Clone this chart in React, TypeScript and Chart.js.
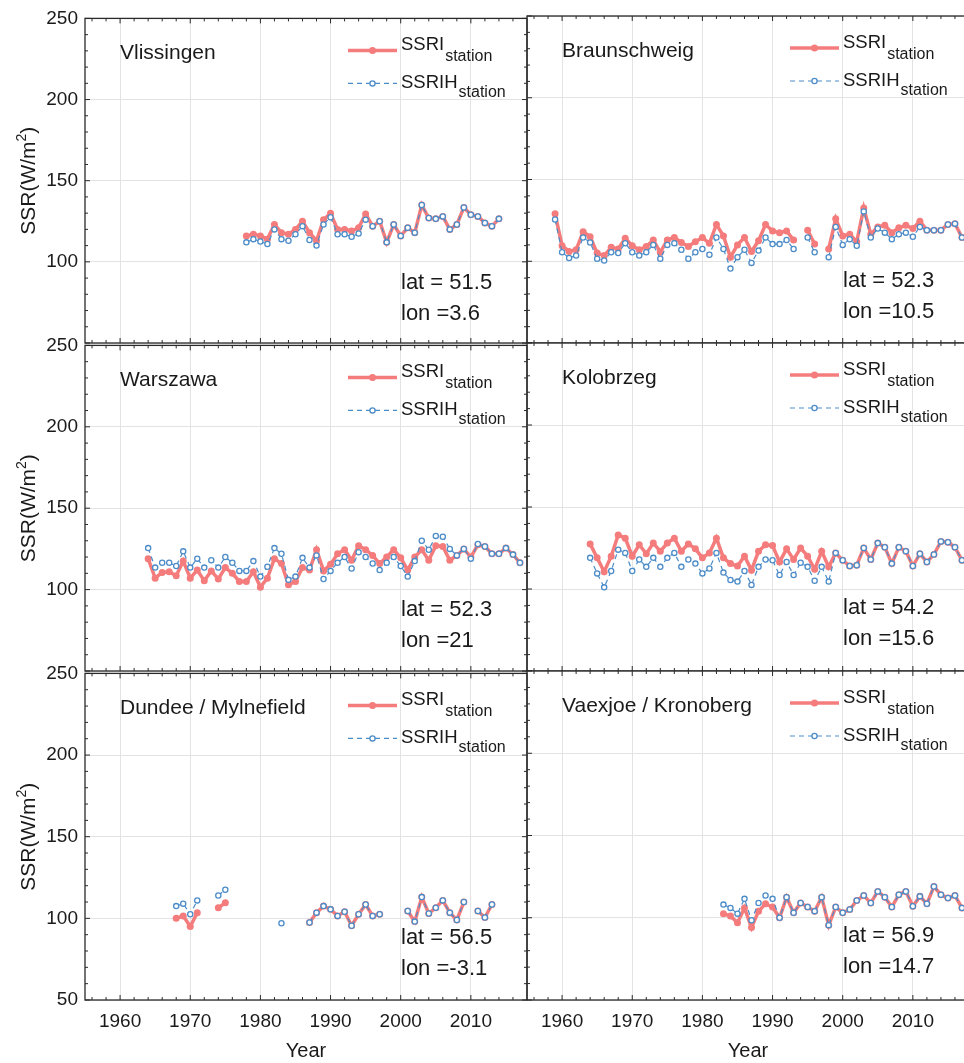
import React, { useEffect, useRef } from "react";
import { Chart, registerables } from "chart.js";
Chart.register(...registerables);

// ---------------- data ----------------
const YEARS = [
  1959,
  1960, 1961, 1962, 1963, 1964, 1965, 1966, 1967, 1968, 1969,
  1970, 1971, 1972, 1973, 1974, 1975, 1976, 1977, 1978, 1979,
  1980, 1981, 1982, 1983, 1984, 1985, 1986, 1987, 1988, 1989,
  1990, 1991, 1992, 1993, 1994, 1995, 1996, 1997, 1998, 1999,
  2000, 2001, 2002, 2003, 2004, 2005, 2006, 2007, 2008, 2009,
  2010, 2011, 2012, 2013, 2014, 2015, 2016, 2017,
];

const X_MIN = 1955;
const X_MAX = 2018;
const Y_MIN = 50;
const Y_MAX = 250;
const X_MAJOR_TICKS = [1960, 1970, 1980, 1990, 2000, 2010];
const X_MINOR_TICKS = [
  1956, 1958, 1962, 1964, 1966, 1968, 1972, 1974, 1976, 1978, 1982, 1984, 1986, 1988,
  1992, 1994, 1996, 1998, 2002, 2004, 2006, 2008, 2012, 2014, 2016,
];
const Y_MAJOR_TICKS = [50, 100, 150, 200, 250];
const Y_MINOR_TICKS = [60, 70, 80, 90, 110, 120, 130, 140, 160, 170, 180, 190, 210, 220, 230, 240];

const STATION_NAMES = [
  "Vlissingen",
  "Braunschweig",
  "Warszawa",
  "Kolobrzeg",
  "Dundee / Mylnefield",
  "Vaexjoe / Kronoberg",
];
const STATION_LAT = ["51.5", "52.3", "52.3", "54.2", "56.5", "56.9"];
const STATION_LON = ["3.6", "10.5", "21", "15.6", "-3.1", "14.7"];

const _ = null;

// Vlissingen
const VLIS_SSRI = [
  _,
  _, _, _, _, _, _, _, _, _, _,
  _, _, _, _, _, _, _, _, 116, 117,
  116, 114, 123, 118, 117, 120, 125, 118, 113, 126,
  130, 120, 120, 119, 121, 129.5, 122, 125, 112, 123,
  116, 121, 118, 135, 127, 126.5, 128, 120, 123, 133.5,
  129, 128, 124, 122, 126.5, _, _, _,
];
const VLIS_SSRIH = [
  _,
  _, _, _, _, _, _, _, _, _, _,
  _, _, _, _, _, _, _, _, 112, 114,
  112.5, 111, 120, 114, 113, 117, 122, 113.5, 110, 123,
  127.5, 117, 117, 115.5, 117.5, 126, 122, 125, 112, 123,
  116, 121, 118, 135, 127, 126.5, 128, 120, 123, 133.5,
  129, 128, 124, 122, 126.5, _, _, _,
];

// Braunschweig
const BRAU_SSRI = [
  129,
  109.5, 106, 107, 118, 115, 105, 103.5, 108.5, 107.5, 114,
  109.5, 107, 109, 113, 105.5, 113, 114.5, 111.5, 109, 112,
  114.5, 111, 122.5, 115.5, 102.5, 110, 114.5, 106, 112.5, 122.5,
  118.5, 117.5, 118.5, 113, _, 119, 110.5, _, 107.5, 126,
  115.5, 116.5, 112, 132.5, 116.5, 121, 122, 117.5, 120.5, 122,
  120, 124.5, 119, 119, 119, 122.5, 123, 114.5,
];
const BRAU_SSRIH = [
  125.5,
  105.5, 102, 103.5, 114.5, 111.5, 101.5, 100.5, 105.5, 105, 111,
  105.5, 103.5, 105.5, 110, 101.5, 110, 111, 107, 101.5, 105.5,
  107.5, 104, 114.5, 107.5, 95.5, 102.5, 107, 99, 106.5, 114.5,
  110.5, 110.5, 113, 107.5, _, 114.5, 105.5, _, 102.5, 121,
  110, 113.5, 109.5, 130.5, 114.5, 120, 117.5, 113.5, 116.5, 117.5,
  115, 121, 119, 119, 119, 122.5, 123, 114.5,
];

// Warszawa
const WARS_SSRI = [
  _,
  _, _, _, _, 119, 107, 110.5, 111, 108.5, 117.5,
  107, 112, 105.5, 111.5, 106.5, 113.5, 110, 105, 105, 111,
  101.5, 107, 119, 116, 103, 105, 113.5, 112, 124.5, 111.5,
  115.5, 122, 124.5, 118, 127, 124.5, 121, 116, 120, 124.5,
  119.5, 112, 120, 124.5, 118, 127, 126.5, 118, 121, 125,
  120, 127.5, 126.5, 122, 122, 125.5, 121.5, 116.5,
];
const WARS_SSRIH = [
  _,
  _, _, _, _, 125.5, 113.5, 116.5, 116.5, 114.5, 123.5,
  113.5, 119, 113.5, 118, 113.5, 120, 116.5, 111.5, 111.5, 117.5,
  108, 114, 125.5, 122, 106, 108, 119.5, 113.5, 121, 106.5,
  111.5, 116.5, 120, 113, 123, 120, 116, 112, 116.5, 120,
  114.5, 108, 117.5, 130, 124.5, 133, 132.5, 125, 121, 125,
  119, 128, 126.5, 122, 122, 125.5, 121.5, 116.5,
];

// Kolobrzeg
const KOLO_SSRI = [
  _,
  _, _, _, _, 127.5, 119, 110.5, 120, 133, 131,
  120, 127, 121.5, 128, 123, 128, 131, 123, 127.5, 124.5,
  119, 122, 131, 119, 115.5, 114, 120, 111.5, 123, 127,
  126.5, 116.5, 124.5, 118, 125, 120, 112, 123, 113.5, 122,
  117.5, 114, 114.5, 125, 118, 128, 125.5, 115.5, 125.5, 123,
  114, 121.5, 116.5, 121, 129, 128.5, 125.5, 117.5,
];
const KOLO_SSRIH = [
  _,
  _, _, _, _, 119, 109.5, 101, 111, 124, 122,
  111, 118, 113.5, 119, 113.5, 119, 122, 113.5, 118, 115.5,
  109.5, 112.5, 122, 110, 105.5, 104.5, 111, 102.5, 113.5, 118,
  117.5, 108.5, 116.5, 108.5, 116, 113.5, 105, 113.5, 104.5, 122,
  117.5, 114, 114.5, 125, 118, 128, 125.5, 115.5, 125.5, 123,
  114, 121.5, 116.5, 121, 129, 128.5, 125.5, 117.5,
];

// Dundee / Mylnefield
const DUND_SSRI = [
  _,
  _, _, _, _, _, _, _, _, 100, 101.5,
  95, 103.5, _, _, 106.5, 109.5, _, _, _, _,
  _, _, _, _, _, _, _, 97.5, 103.5, 107.5,
  105.5, 101.5, 104, 95.5, 102.5, 108.5, 101.5, 102.5, _, _,
  _, 104.5, 98, 113, 103, 106.5, 111, 103.5, 99, 110,
  _, 104.5, 100.5, 108.5, _, _, _, _,
];
const DUND_SSRIH = [
  _,
  _, _, _, _, _, _, _, _, 107.5, 109,
  102.5, 111, _, _, 114, 117.5, _, _, _, _,
  _, _, _, 97, _, _, _, 97.5, 103.5, 107.5,
  105.5, 101.5, 104, 95.5, 102.5, 108.5, 101.5, 102.5, _, _,
  _, 104.5, 98, 113, 103, 106.5, 111, 103.5, 99, 110,
  _, 104.5, 100.5, 108.5, _, _, _, _,
];

// Vaexjoe / Kronoberg
const VAEX_SSRI = [
  _,
  _, _, _, _, _, _, _, _, _, _,
  _, _, _, _, _, _, _, _, _, _,
  _, _, _, 102.5, 101, 97, 106, 94, 104, 108.5,
  106.5, 100, 112.5, 103, 109, 106.5, 104, 112.5, 95.5, 106.5,
  103, 105, 110.5, 113.5, 109, 116, 112.5, 106.5, 114, 116,
  107, 113, 108.5, 119, 114, 112, 113.5, 106,
];
const VAEX_SSRIH = [
  _,
  _, _, _, _, _, _, _, _, _, _,
  _, _, _, _, _, _, _, _, _, _,
  _, _, _, 108, 106, 102.5, 111.5, 98.5, 109, 113.5,
  111.5, 100, 112.5, 103, 109, 106.5, 104, 112.5, 95.5, 106.5,
  103, 105, 110.5, 113.5, 109, 116, 112.5, 106.5, 114, 116,
  107, 113, 108.5, 119, 114, 112, 113.5, 106,
];

const SSRI_SERIES = [VLIS_SSRI, BRAU_SSRI, WARS_SSRI, KOLO_SSRI, DUND_SSRI, VAEX_SSRI];
const SSRIH_SERIES = [VLIS_SSRIH, BRAU_SSRIH, WARS_SSRIH, KOLO_SSRIH, DUND_SSRIH, VAEX_SSRIH];

// ---------------- styles / layout ----------------
const RED = "rgb(244,124,124)";
const BLUE = "rgb(76,140,200)";
const GRID = "#e3e3e3";
const FRAME = "#2a2a2a";
const TXT = "#1a1a1a";
const FONT = "'Liberation Sans', Arial, sans-serif";

const COL_LEFT = [85, 527];
const PANEL_W = 442;
const ROW_TOP = [16, 343, 671];
const ROW_H = [327, 328, 329];
const M_LEFT = 85;
const M_TOP = 16;
const M_RIGHT = 10;
const M_BOTTOM = 63;

function drawSubText(ctx: CanvasRenderingContext2D, x: number, y: number, main: string, sub: string, mainSize: number, subSize: number, subDy: number) {
  ctx.font = `${mainSize}px ${FONT}`;
  ctx.fillText(main, x, y);
  const w = ctx.measureText(main).width;
  ctx.font = `${subSize}px ${FONT}`;
  ctx.fillText(sub, x + w + 1, y + subDy);
}

function makeDecorPlugin(idx: number, row: number, col: number) {
  return {
    id: "decor" + idx,
    afterDraw(chart: any) {
      const ctx: CanvasRenderingContext2D = chart.ctx;
      const { left, top, right, bottom } = chart.chartArea;
      const xs = chart.scales.x;
      const ys = chart.scales.y;
      ctx.save();
      // frame
      ctx.strokeStyle = FRAME;
      ctx.lineWidth = 1.3;
      ctx.strokeRect(left, top, right - left, bottom - top);
      // ticks (inward)
      ctx.lineWidth = 1;
      ctx.beginPath();
      const tickX = (v: number, len: number) => {
        const px = xs.getPixelForValue(v);
        ctx.moveTo(px, bottom);
        ctx.lineTo(px, bottom - len);
        ctx.moveTo(px, top);
        ctx.lineTo(px, top + len);
      };
      const tickY = (v: number, len: number) => {
        const py = ys.getPixelForValue(v);
        ctx.moveTo(left, py);
        ctx.lineTo(left + len, py);
        ctx.moveTo(right, py);
        ctx.lineTo(right - len, py);
      };
      X_MAJOR_TICKS.forEach((v) => tickX(v, 5));
      X_MINOR_TICKS.forEach((v) => tickX(v, 3));
      Y_MAJOR_TICKS.forEach((v) => tickY(v, 5));
      Y_MINOR_TICKS.forEach((v) => tickY(v, 3));
      ctx.stroke();

      ctx.fillStyle = TXT;
      ctx.textAlign = "left";
      ctx.textBaseline = "alphabetic";
      // station name
      ctx.font = `21px ${FONT}`;
      ctx.fillText(STATION_NAMES[idx], left + 35, top + 41);
      // lat / lon
      ctx.font = `22px ${FONT}`;
      ctx.fillText(`lat = ${STATION_LAT[idx]}`, left + 316, top + 271);
      ctx.fillText(`lon =${STATION_LON[idx]}`, left + 316, top + 302);

      // legend
      const lx0 = left + 263;
      const lx1 = left + 312;
      const lxm = (lx0 + lx1) / 2;
      const ly1 = top + 32;
      const ly2 = top + 65;
      ctx.strokeStyle = RED;
      ctx.lineWidth = 3.5;
      ctx.setLineDash([]);
      ctx.beginPath();
      ctx.moveTo(lx0, ly1);
      ctx.lineTo(lx1, ly1);
      ctx.stroke();
      ctx.fillStyle = RED;
      ctx.beginPath();
      ctx.arc(lxm, ly1, 3.5, 0, Math.PI * 2);
      ctx.fill();
      ctx.strokeStyle = BLUE;
      ctx.lineWidth = 1.2;
      ctx.setLineDash([5, 4]);
      ctx.beginPath();
      ctx.moveTo(lx0, ly2);
      ctx.lineTo(lx1, ly2);
      ctx.stroke();
      ctx.setLineDash([]);
      ctx.fillStyle = "#fff";
      ctx.lineWidth = 1.3;
      ctx.beginPath();
      ctx.arc(lxm, ly2, 2.6, 0, Math.PI * 2);
      ctx.fill();
      ctx.stroke();
      ctx.fillStyle = TXT;
      drawSubText(ctx, left + 316, top + 32, "SSRI", "station", 18.5, 16, 11);
      drawSubText(ctx, left + 316, top + 70, "SSRIH", "station", 18.5, 16, 9);

      // y title
      if (col === 0) {
        const cy = (top + bottom) / 2;
        ctx.save();
        ctx.translate(left - 50, cy);
        ctx.rotate(-Math.PI / 2);
        ctx.font = `21px ${FONT}`;
        const w1 = ctx.measureText("SSR(W/m").width;
        const w3 = ctx.measureText(")").width;
        ctx.font = `14px ${FONT}`;
        const w2 = ctx.measureText("2").width;
        const total = w1 + w2 + w3;
        const sx = -total / 2;
        ctx.textAlign = "left";
        ctx.font = `21px ${FONT}`;
        ctx.fillText("SSR(W/m", sx, 0);
        ctx.font = `14px ${FONT}`;
        ctx.fillText("2", sx + w1, -9);
        ctx.font = `21px ${FONT}`;
        ctx.fillText(")", sx + w1 + w2, 0);
        ctx.restore();
      }
      // x title
      if (row === 2) {
        ctx.textAlign = "center";
        ctx.font = `20px ${FONT}`;
        ctx.fillText("Year", (left + right) / 2, bottom + 57);
      }
      ctx.restore();
    },
  };
}

function PanelChart({ idx }: { idx: number }) {
  const ref = useRef<HTMLCanvasElement>(null);
  const row = Math.floor(idx / 2);
  const col = idx % 2;
  const cw = M_LEFT + PANEL_W + M_RIGHT;
  const ch = M_TOP + ROW_H[row] + M_BOTTOM;
  const cl = COL_LEFT[col] - M_LEFT;
  const ct = ROW_TOP[row] - M_TOP;

  useEffect(() => {
    if (!ref.current) return;
    const red = SSRI_SERIES[idx];
    const blue = SSRIH_SERIES[idx];
    const chart = new Chart(ref.current, {
      type: "line",
      data: {
        datasets: [
          {
            label: "SSRI",
            order: 2,
            data: YEARS.map((y, i) => ({ x: y, y: red[i] })),
            borderColor: RED,
            backgroundColor: RED,
            borderWidth: 3.5,
            pointRadius: 3.5,
            pointBorderWidth: 0,
            pointBackgroundColor: RED,
            spanGaps: false,
          },
          {
            label: "SSRIH",
            order: 1,
            data: YEARS.map((y, i) => ({ x: y, y: blue[i] })),
            borderColor: BLUE,
            backgroundColor: "#fff",
            borderWidth: 1.2,
            borderDash: [5, 4],
            pointRadius: 2.6,
            pointBorderWidth: 1.3,
            pointBorderColor: BLUE,
            pointBackgroundColor: "#fff",
            spanGaps: false,
          },
        ],
      },
      options: {
        responsive: false,
        animation: false,
        devicePixelRatio: 1,
        events: [],
        layout: { padding: { left: 0, top: M_TOP, right: M_RIGHT, bottom: 0 } },
        plugins: { legend: { display: false }, tooltip: { enabled: false } },
        scales: {
          x: {
            type: "linear",
            min: X_MIN,
            max: X_MAX,
            afterBuildTicks: (s: any) => {
              s.ticks = X_MAJOR_TICKS.map((v) => ({ value: v }));
            },
            afterFit: (s: any) => {
              s.height = M_BOTTOM;
            },
            grid: { color: GRID, drawTicks: false, lineWidth: 1 },
            border: { display: false },
            ticks: {
              display: row === 2,
              autoSkip: false,
              maxRotation: 0,
              padding: 10,
              color: TXT,
              font: { family: FONT, size: 19 },
              callback: (v: any) => String(v),
            },
          },
          y: {
            type: "linear",
            min: Y_MIN,
            max: Y_MAX,
            afterBuildTicks: (s: any) => {
              s.ticks = Y_MAJOR_TICKS.map((v) => ({ value: v }));
            },
            afterFit: (s: any) => {
              s.width = M_LEFT;
            },
            grid: { color: GRID, drawTicks: false, lineWidth: 1 },
            border: { display: false },
            ticks: {
              display: col === 0,
              padding: 7,
              color: TXT,
              font: { family: FONT, size: 19 },
              callback: (v: any) => (v === 50 && row < 2 ? "" : String(v)),
            },
          },
        },
      },
      plugins: [makeDecorPlugin(idx, row, col)],
    } as any);
    return () => chart.destroy();
  }, [idx]);

  return (
    <canvas
      ref={ref}
      width={cw}
      height={ch}
      style={{ position: "absolute", left: cl, top: ct, width: cw, height: ch }}
    />
  );
}

export default function App() {
  return (
    <div
      style={{
        position: "absolute",
        left: 0,
        top: 0,
        width: 964,
        height: 1063,
        overflow: "hidden",
        background: "#fff",
      }}
    >
      {[0, 1, 2, 3, 4, 5].map((i) => (
        <PanelChart key={i} idx={i} />
      ))}
    </div>
  );
}
